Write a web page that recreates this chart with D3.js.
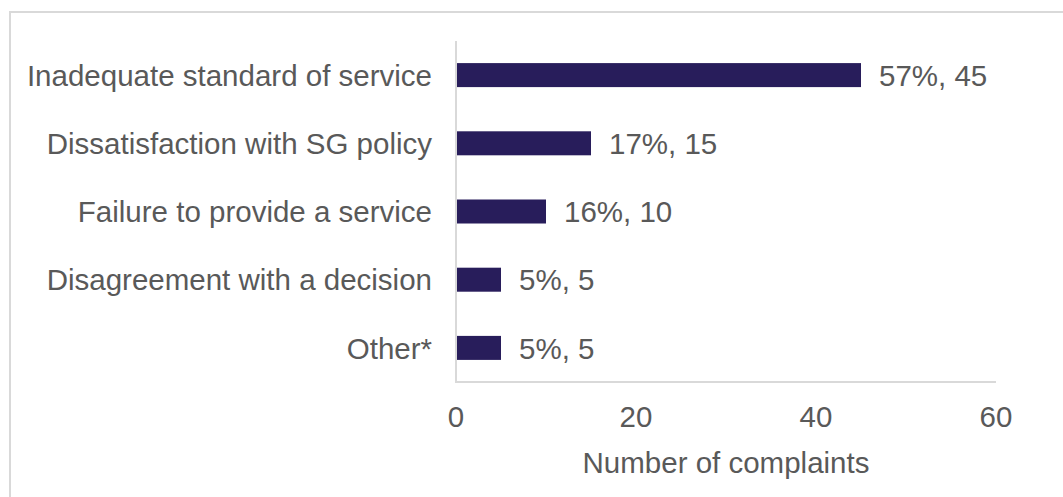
<!DOCTYPE html>
<html>
<head>
<meta charset="utf-8">
<script src="https://cdn.jsdelivr.net/npm/d3@7"></script>
<style>
  body { margin: 0; background: #fff; }
  text { font-family: "Liberation Sans", Arial, sans-serif; fill: #595959; }
</style>
</head>
<body>
<svg id="chart" width="1063" height="497"></svg>
<script>
// data
var categories = ['Inadequate standard of service', 'Dissatisfaction with SG policy',
                  'Failure to provide a service', 'Disagreement with a decision', 'Other*'];
var counts = [45, 15, 10, 5, 5];
var percents = ['57%', '17%', '16%', '5%', '5%'];
var xTicks = [0, 20, 40, 60];

// plot area (note: "top" is reserved on window, so use plot* names)
var svg = d3.select('#chart'),
    plotLeft = 456, plotRight = 996, plotTop = 41, plotBottom = 382,
    barColor = '#281d5b',
    lineColor = '#d9d9d9',
    fontSize = 29.5;

// outer frame (only top/left visible in the picture)
svg.append('rect')
    .attr('x', 10).attr('y', 12)
    .attr('width', 1200).attr('height', 700)
    .attr('fill', 'none')
    .attr('stroke', lineColor)
    .attr('stroke-width', 2);

var x = d3.scaleLinear().domain([0, 60]).range([plotLeft, plotRight]);
var y = d3.scaleBand().domain(categories).range([plotTop, plotBottom])
    .paddingInner(0.648).paddingOuter(0.324);

var data = categories.map(function(c, i) { return { cat: c, n: counts[i], pct: percents[i] }; });

// bars
svg.selectAll('.bar').data(data).enter()
  .append('rect')
    .attr('class', 'bar')
    .attr('x', x(0))
    .attr('y', function(d) { return y(d.cat); })
    .attr('width', function(d) { return x(d.n) - x(0); })
    .attr('height', y.bandwidth())
    .attr('fill', barColor);

// axis lines
svg.append('line')
    .attr('x1', x(0)).attr('x2', x(0))
    .attr('y1', plotTop).attr('y2', plotBottom)
    .attr('stroke', lineColor).attr('stroke-width', 2);
svg.append('line')
    .attr('x1', x(0) - 1).attr('x2', x(60))
    .attr('y1', plotBottom).attr('y2', plotBottom)
    .attr('stroke', lineColor).attr('stroke-width', 2);

// category labels
svg.selectAll('.cat').data(data).enter()
  .append('text')
    .attr('class', 'cat')
    .attr('x', x(0) - 24)
    .attr('y', function(d) { return y(d.cat) + y.bandwidth() / 2; })
    .attr('dy', '0.36em')
    .attr('text-anchor', 'end')
    .style('font-size', fontSize + 'px')
    .text(function(d) { return d.cat; });

// value labels
svg.selectAll('.val').data(data).enter()
  .append('text')
    .attr('class', 'val')
    .attr('x', function(d) { return x(d.n) + 18; })
    .attr('y', function(d) { return y(d.cat) + y.bandwidth() / 2; })
    .attr('dy', '0.36em')
    .style('font-size', fontSize + 'px')
    .text(function(d) { return d.pct + ', ' + d.n; });

// x tick labels
svg.selectAll('.tick').data(xTicks).enter()
  .append('text')
    .attr('class', 'tick')
    .attr('x', x)
    .attr('y', 427)
    .attr('text-anchor', 'middle')
    .style('font-size', fontSize + 'px')
    .text(function(d) { return d; });

// axis title
svg.append('text')
    .attr('x', (x(0) + x(60)) / 2)
    .attr('y', 473)
    .attr('text-anchor', 'middle')
    .style('font-size', fontSize + 'px')
    .text('Number of complaints');
</script>
</body>
</html>
